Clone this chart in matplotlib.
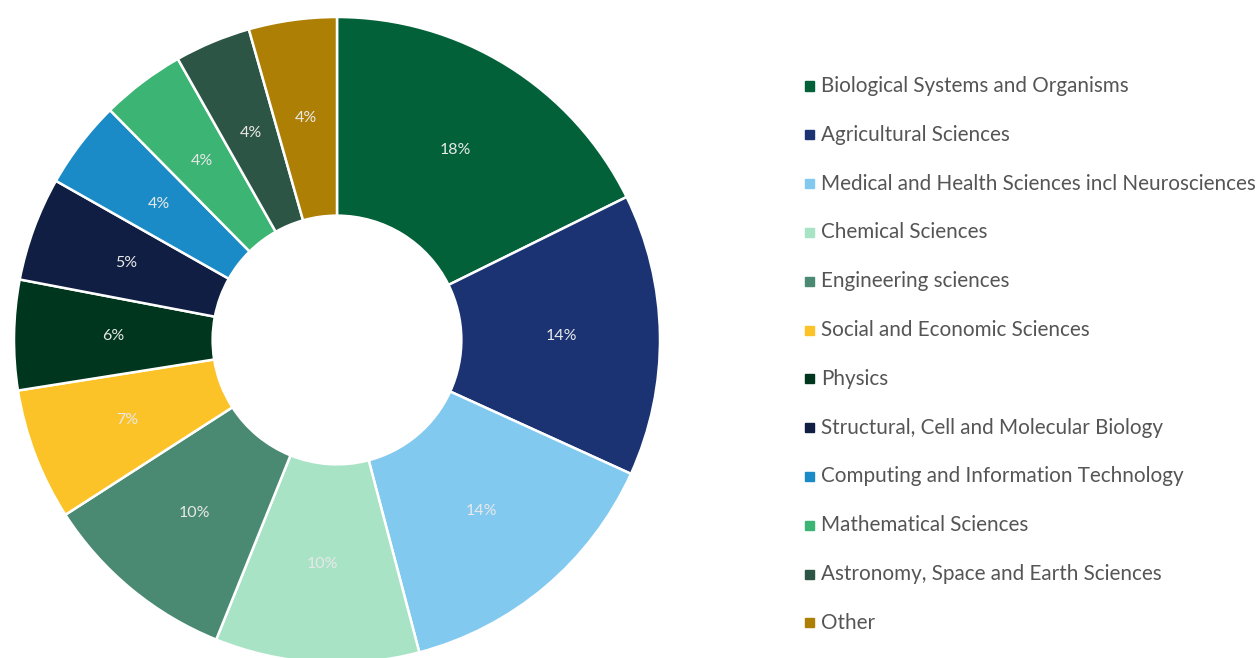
import matplotlib.pyplot as plt
from matplotlib.patches import Rectangle

categories = [
    'Biological Systems and Organisms',
    'Agricultural Sciences',
    'Medical and Health Sciences incl Neurosciences',
    'Chemical Sciences',
    'Engineering sciences',
    'Social and Economic Sciences',
    'Physics',
    'Structural, Cell and Molecular Biology',
    'Computing and Information Technology',
    'Mathematical Sciences',
    'Astronomy, Space and Earth Sciences',
    'Other',
]
shares = [17.7, 14.1, 14.1, 10.2, 9.8, 6.6, 5.5, 5.2, 4.4, 4.2, 3.8, 4.4]
colors = ['#03613A', '#1B3372', '#82C9F0', '#A8E3C6', '#4A8A73', '#FCC329',
          '#00361D', '#0F1E42', '#1A8BC7', '#3BB474', '#2C5545', '#AD7F04']

plt.rcParams['font.family'] = ['Lato', 'DejaVu Sans']

W, H = 1259, 658
fig = plt.figure(figsize=(W / 100, H / 100), dpi=100)

# donut: centre (337, 340) px, outer radius 323 px
cx, cy, r = 337, 340, 323
ax = fig.add_axes([(cx - r) / W, (H - cy - r) / H, 2 * r / W, 2 * r / H])
wedges, texts, autotexts = ax.pie(
    shares, colors=colors, startangle=90, counterclock=False, radius=1,
    autopct=lambda p: '%.0f%%' % p, pctdistance=0.694,
    wedgeprops=dict(width=0.615, edgecolor='white', linewidth=1.8),
    textprops=dict(color='#E8E8E8', fontsize=11.5))
ax.set_xlim(-1, 1)
ax.set_ylim(-1, 1)
ax.set_aspect('equal')
ax.axis('off')

# legend drawn by hand
y0, step = 86, 48.8
for i, (name, col) in enumerate(zip(categories, colors)):
    y = y0 + i * step
    fig.patches.append(Rectangle((805 / W, (H - y - 4.5) / H), 9 / W, 9 / H,
                                 transform=fig.transFigure, color=col))
    fig.text(821 / W, (H - y) / H, name, fontsize=14.9,
             color='#555555', va='center', ha='left')

fig.savefig('out.png', dpi=100)
